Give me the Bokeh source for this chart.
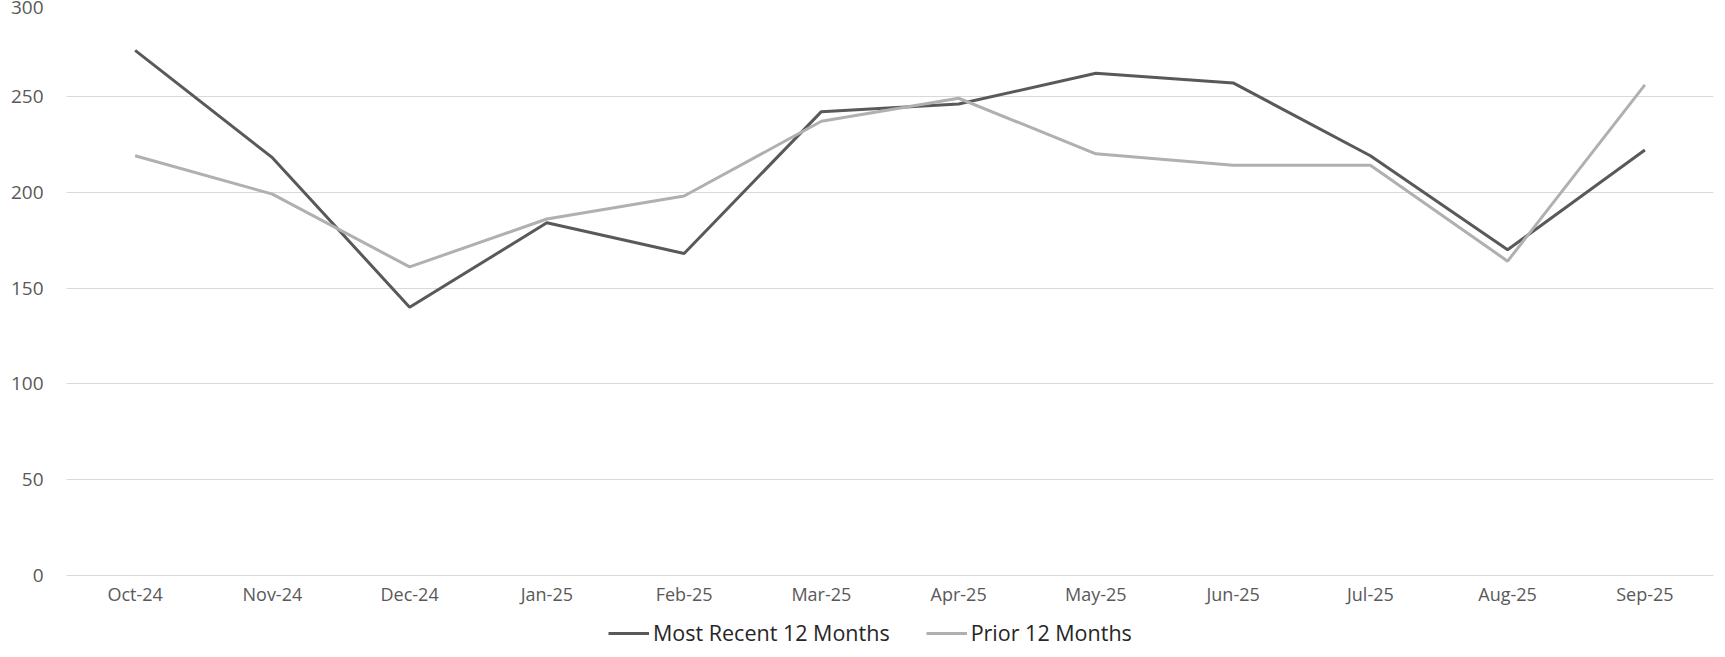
from bokeh.plotting import figure
from bokeh.layouts import column
from bokeh.models import Range1d, FixedTicker, Legend, LegendItem
from bokeh.embed import file_html
from bokeh.resources import INLINE

months = ["Oct-24", "Nov-24", "Dec-24", "Jan-25", "Feb-25", "Mar-25",
          "Apr-25", "May-25", "Jun-25", "Jul-25", "Aug-25", "Sep-25"]
most_recent = [274, 218, 140, 184, 168, 242, 246, 262, 257, 219, 170, 222]
prior = [219, 199, 161, 186, 198, 237, 249, 220, 214, 214, 164, 256]
y_ticks = [0, 50, 100, 150, 200, 250, 300]
series_names = ["Most Recent 12 Months", "Prior 12 Months"]

FONT = "Open Sans"
DARK = "#595959"
LIGHT = "#b0b0b0"

p = figure(x_range=months, y_range=Range1d(0, 300),
           frame_width=1647, frame_height=575,
           output_backend="svg", toolbar_location=None,
           min_border_left=66, min_border_right=11, min_border_top=0,
           min_border_bottom=0)
p.outline_line_color = None
p.background_fill_color = "white"

p.line(months, most_recent, line_color=DARK, line_width=3)
p.line(months, prior, line_color=LIGHT, line_width=3)

p.yaxis.ticker = FixedTicker(ticks=y_ticks)
p.yaxis.axis_line_color = None
p.yaxis.major_tick_line_color = None
p.yaxis.minor_tick_line_color = None
p.yaxis.major_label_standoff = 17
p.yaxis.major_label_text_font = FONT
p.yaxis.major_label_text_font_size = "19px"
p.yaxis.major_label_text_color = "#595959"

p.xaxis.axis_line_color = "#d9d9d9"
p.xaxis.major_tick_line_color = None
p.xaxis.minor_tick_line_color = None
p.xaxis.major_label_standoff = 0
p.xaxis.major_label_text_font = FONT
p.xaxis.major_label_text_font_size = "18px"
p.xaxis.major_label_text_color = "#595959"

p.xgrid.grid_line_color = None
p.ygrid.grid_line_color = "#d9d9d9"
p.ygrid.grid_line_width = 1

# legend strip below the chart (series drawn out of view; only the legend shows)
lg = figure(x_range=months, y_range=Range1d(1000, 1001),
            width=1724, height=50, output_backend="svg", toolbar_location=None,
            min_border=0)
lg.axis.visible = False
lg.grid.visible = False
lg.outline_line_color = None
k1 = lg.line(months, most_recent, line_color=DARK, line_width=3)
k2 = lg.line(months, prior, line_color=LIGHT, line_width=3)

legend = Legend(items=[LegendItem(label=series_names[0], renderers=[k1]),
                       LegendItem(label=series_names[1], renderers=[k2])],
                orientation="horizontal", location=(542, 11),
                glyph_width=41, glyph_height=20, label_standoff=4, spacing=36,
                padding=0, margin=0, border_line_color=None,
                background_fill_alpha=0,
                label_text_font=FONT, label_text_font_size="21.5px",
                label_text_color="#262626")
lg.add_layout(legend, "center")

layout = column(p, lg, spacing=0)

open("out.html", "w").write(file_html(layout, INLINE))
